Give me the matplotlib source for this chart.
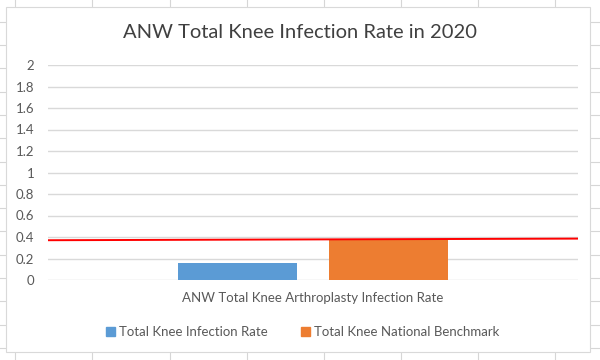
import matplotlib.pyplot as plt
from matplotlib.lines import Line2D
from matplotlib.patches import Rectangle, Patch

plt.rcParams['font.family'] = ['Lato', 'DejaVu Sans']

# data
category = ["ANW Total Knee Arthroplasty Infection Rate"]
series_names = ["Total Knee Infection Rate", "Total Knee National Benchmark"]
series_values = [0.16, 0.38]
colors = ["#5B9BD5", "#ED7D31"]
benchmark_line = [0.37, 0.385]   # red line, left end / right end
y_ticks = [0, 0.2, 0.4, 0.6, 0.8, 1, 1.2, 1.4, 1.6, 1.8, 2]
y_labels = ["0", "0.2", "0.4", "0.6", "0.8", "1", "1.2", "1.4", "1.6", "1.8", "2"]

W, H = 600, 360
fig = plt.figure(figsize=(6, 3.6), dpi=100)

# spreadsheet cells behind the chart
grid_c = "#d6d6d6"
for x in [15, 92, 170, 247, 324, 401, 478, 555]:
    fig.add_artist(Line2D([x / W, x / W], [0, 1], color=grid_c, lw=0.8, zorder=-3))
y = 21.7
while y < H:
    fig.add_artist(Line2D([0, 1], [1 - y / H, 1 - y / H], color=grid_c, lw=0.8, zorder=-3))
    y += 23.3

# chart area
fig.add_artist(Rectangle((6 / W, 8 / H), 584 / W, 345 / H, facecolor="white",
                         edgecolor="#d9d9d9", lw=0.8, zorder=-2))

ax = fig.add_axes([48 / W, 80 / H, 530 / W, 215 / H])
ax.set_facecolor("none")

offsets = [-0.1425, 0.1425]
bar_w = 0.2245
for name, val, off, c in zip(series_names, series_values, offsets, colors):
    ax.bar(off, val, width=bar_w, color=c, label=name, zorder=2)

ax.plot([-0.5, 0.5], benchmark_line, color="#FF0000", lw=1.4, zorder=3)

ax.set_xlim(-0.5, 0.5)
ax.set_ylim(0, 2)
ax.set_yticks(y_ticks)
ax.set_yticklabels(y_labels)
ax.set_xticks([0])
ax.set_xticklabels(category)
ax.grid(axis="y", color="#d9d9d9", lw=1, zorder=0)
ax.tick_params(axis="both", length=0, colors="#595959", labelsize=9.5)
ax.tick_params(axis="y", pad=10)
ax.tick_params(axis="x", pad=9)
for s in ax.spines.values():
    s.set_visible(False)

fig.text(300 / W, 1 - 33 / H, "ANW Total Knee Infection Rate in 2020",
         ha="center", va="center", fontsize=14.5, color="#404040")

handles = [Patch(facecolor=c, edgecolor=c) for c in colors]
fig.legend(handles, series_names, loc="center", bbox_to_anchor=(303 / W, 1 - 332 / H),
           ncol=2, frameon=False, fontsize=9.5, labelcolor="#595959",
           handlelength=0.7, handleheight=0.7, handletextpad=0.3, columnspacing=2.5)

fig.savefig("out.png", dpi=100)
